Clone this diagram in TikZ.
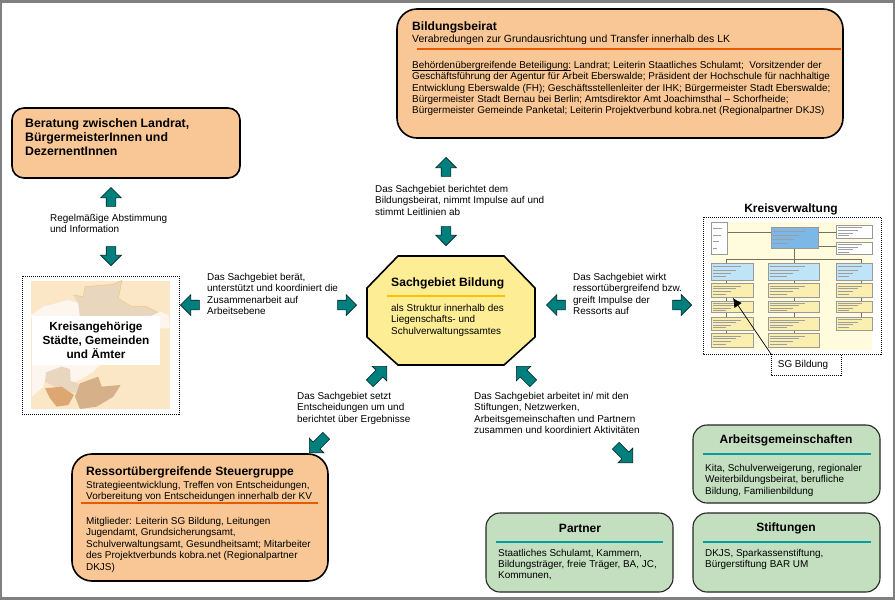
\documentclass[tikz,border=0pt]{standalone}
\usepackage{fontspec}
\setmainfont{Liberation Sans}
\usetikzlibrary{shapes.arrows,shapes.geometric,calc,arrows.meta}
\definecolor{peach}{HTML}{F8C795}
\definecolor{sage}{HTML}{C3DFBF}
\definecolor{octfill}{HTML}{FDEE96}
\definecolor{tealar}{HTML}{007F7F}
\definecolor{tealln}{HTML}{00A0A0}
\definecolor{orangeln}{HTML}{E85A00}
\definecolor{goldln}{HTML}{FFC000}
\definecolor{framegrey}{HTML}{808080}
\definecolor{mapbg}{HTML}{FBE6C6}
\definecolor{mapa}{HTML}{E8D6BE}
\definecolor{mapb}{HTML}{D6B088}
\definecolor{mapd}{HTML}{DDA774}
\definecolor{mapc}{HTML}{FDF6EE}
\definecolor{mapl}{HTML}{EBCB7A}
\definecolor{orgbg}{HTML}{FFFBDC}
\definecolor{orgyel}{HTML}{FBEFB0}
\definecolor{orglb}{HTML}{BFE3F7}
\definecolor{orgdb}{HTML}{7BB8E8}
\tikzset{
 x=1pt,y=-1pt,
 txt/.style={anchor=north west,inner sep=0pt,yshift=-1.7pt,align=left,font=\fontsize{9.93}{11.35}\selectfont,text=black},
 headb/.style={anchor=north west,inner sep=0pt,yshift=-1.7pt,align=left,font=\fontsize{12.1}{14}\selectfont\bfseries,text=black},
 headc/.style={anchor=center,inner sep=0pt,yshift=-1.3pt,align=center,font=\fontsize{12}{14}\selectfont\bfseries,text=black},
 peachbox/.style={draw=black,line width=1.6pt,fill=peach},
 greenbox/.style={draw=black!85,line width=1.1pt,fill=sage},
 dotbox/.style={draw=black,line width=1pt,dash pattern=on 1pt off 1pt},
 blockar/.style={single arrow,anchor=tip,draw=black!70!tealar,fill=tealar,line width=.6pt,minimum height=19pt,minimum width=20pt,inner sep=0pt,inner ysep=4.5pt,single arrow head extend=5.5pt},
 diagar/.style={blockar,minimum height=24pt},
 orgline/.style={draw=black!55!orgbg,line width=.4pt},
 tiny/.style={draw=black!38,line width=.4pt},
}
\newcommand{\orgb}[5]{% x1 y1 x2 y2 fill, with blurred micro text
 \fill[#5,draw=black!40,line width=.3pt] (#1,#2) rectangle (#3,#4);
 \foreach \k in {1,2,3,4}{\draw[tiny] ({#1+6},{#2+(#4-#2)*\k/5}) -- ({#1+(#3-#1)*(0.85-0.12*\k)},{#2+(#4-#2)*\k/5});}
}
\newcommand{\ulx}[1]{\setbox0=\hbox{#1}\rlap{\rule[-1.7pt]{\wd0}{.55pt}}\box0{}}
\begin{document}
\begin{tikzpicture}
\useasboundingbox (0,0) rectangle (895,600);
\fill[framegrey] (0,0) rectangle (895,600);
\fill[white] (2,3) rectangle (893,597);

% Bildungsbeirat
\path[peachbox,rounded corners=20pt] (397,9) rectangle (843,138);
\node[headb] (bbt) at (412,20) {Bildungsbeirat};
\node[txt,font=\fontsize{10.45}{12}\selectfont] (bbs) at (412,33) {Verabredungen zur Grundausrichtung und Transfer innerhalb des LK};
\draw[orangeln,line width=1.2pt] (417,49) -- (841,49);
\node[txt] (bbb) at (412,59.5) {\ulx{Behördenübergreifende Beteiligung:} Landrat; Leiterin Staatliches Schulamt;\ \ Vorsitzender der\\
Geschäftsführung der Agentur für Arbeit Eberswalde; Präsident der Hochschule für nachhaltige\\
Entwicklung Eberswalde (FH); Geschäftsstellenleiter der IHK; Bürgermeister Stadt Eberswalde;\\
Bürgermeister Stadt Bernau bei Berlin; Amtsdirektor Amt Joachimsthal – Schorfheide;\\
Bürgermeister Gemeinde Panketal; Leiterin Projektverbund kobra.net (Regionalpartner DKJS)};

% Beratung
\path[peachbox,rounded corners=12pt] (12,108) rectangle (240,178);
\node[headb,font=\fontsize{12.3}{14}\selectfont\bfseries] (ber) at (25,117) {Beratung zwischen Landrat,\\BürgermeisterInnen und\\DezernentInnen};

% Kreisangehoerige with map
\fill[mapbg] (31,281) rectangle (170,409);
\begin{scope}[shift={(0,265)},x=0.3333pt,y=-0.3333pt]
 \fill[mapc] (93,150) -- (130,125) -- (205,105) -- (235,115) -- (245,150) -- (245,160) -- (93,160) -- cycle;
 \fill[mapa] (220,90) -- (250,95) -- (255,65) -- (340,58) -- (366,46) -- (355,100) -- (395,125) -- (440,125) -- (490,150) -- (240,160) -- (235,115) -- cycle;
 \draw[mapl,line width=.5pt] (220,90) -- (250,95) -- (255,65) -- (340,58) -- (366,46) -- (355,100) -- (395,125) -- (440,125) -- (490,150);
 \fill[mapc] (440,160) -- (480,140) -- (505,150) -- (510,190) -- (490,190) -- (440,190) -- cycle;
 \fill[mapc] (96,300) -- (300,300) -- (280,320) -- (240,345) -- (210,355) -- (135,345) -- (130,365) -- (96,395) -- cycle;
 \fill[mapa] (138,322) -- (185,305) -- (210,312) -- (212,348) -- (240,358) -- (225,385) -- (165,365) -- (135,350) -- cycle;
 \fill[mapb] (225,395) -- (240,355) -- (295,335) -- (305,365) -- (362,360) -- (340,395) -- (290,425) -- (240,432) -- cycle;
 \fill[mapd] (135,370) -- (185,365) -- (222,390) -- (205,420) -- (170,425) -- (150,400) -- cycle;
\end{scope}
\fill[white] (32,316) rectangle (160,365);
\path[dotbox] (22,276) rectangle (179,414);
\node[headc,font=\fontsize{11.8}{14}\selectfont\bfseries,yshift=1.3pt] (kre) at (96,340) {Kreisangehörige\\Städte, Gemeinden\\und Ämter};

% Kreisverwaltung org chart
\node[headc] (kv) at (791,208) {Kreisverwaltung};
\fill[orgbg] (711,222) rectangle (872,350);
\begin{scope}[shift={(690,195)},x=0.3333pt,y=-0.3333pt]
 \draw[orgline] (110,112) -- (437,112) (383,155) -- (437,155) (313,158) -- (313,193) (110,193) -- (515,193)
   (110,193) -- (110,455) (313,193) -- (313,455) (515,193) -- (515,405);
 \orgb{63}{80}{110}{178}{white}
 \orgb{243}{97}{383}{158}{orgdb}
 \orgb{437}{90}{545}{130}{white}
 \orgb{437}{140}{545}{178}{white}
 \orgb{63}{205}{188}{255}{orglb}
 \orgb{233}{205}{388}{255}{orglb}
 \orgb{437}{205}{545}{255}{orglb}
 \foreach \a/\b in {265/305,318/352,367/405,415/455}{\orgb{63}{\a}{188}{\b}{orgyel}\orgb{233}{\a}{388}{\b}{orgyel}}
 \foreach \a/\b in {265/305,318/352,365/405}{\orgb{437}{\a}{545}{\b}{orgyel}}
\end{scope}
\path[dotbox] (703,217) rectangle (881,354);
\path[dotbox,fill=white] (771,354) rectangle (841,375);
\node[txt,anchor=center,yshift=1.7pt] (sg) at (803,365) {SG Bildung};
\coordinate (sgtip) at (733,298);
\coordinate (sgfrom) at (771,354);
\draw[black,line width=.7pt,-{Latex[length=9pt,width=9pt]}] (sgfrom) -- (sgtip);

% Octagon
\path[draw=black,line width=1.6pt,fill=octfill] (398,256) -- (504,256) -- (535,288) -- (535,337) -- (504,365) -- (398,365) -- (367,337) -- (367,288) -- cycle;
\node[headb] (oct) at (391,276) {Sachgebiet Bildung};
\draw[goldln,line width=1.3pt] (387,296) -- (505,296);
\node[txt] (octb) at (391,302.5) {als Struktur innerhalb des\\Liegenschafts- und\\Schulverwaltungssamtes};

% Steuergruppe
\path[peachbox,rounded corners=20pt] (72,454) rectangle (328,581);
\node[headb] (st) at (86,465) {Ressortübergreifende Steuergruppe};
\node[txt] (sts) at (86,479.5) {Strategieentwicklung, Treffen von Entscheidungen,\\Vorbereitung von Entscheidungen innerhalb der KV};
\draw[orangeln,line width=1.2pt] (81,503) -- (318,503);
\node[txt] (stb) at (86,515.5) {Mitglieder: Leiterin SG Bildung, Leitungen\\Jugendamt, Grundsicherungsamt,\\Schulverwaltungsamt, Gesundheitsamt; Mitarbeiter\\des Projektverbunds kobra.net (Regionalpartner\\DKJS)};

% Green boxes
\path[greenbox,rounded corners=14pt] (693,425) rectangle (880,503);
\node[headc] (ag) at (786,439) {Arbeitsgemeinschaften};
\draw[tealln,line width=1.3pt] (703,454) -- (871,454);
\node[txt] (agb) at (705,462.5) {Kita, Schulverweigerung, regionaler\\Weiterbildungsbeirat, berufliche\\Bildung, Familienbildung};

\path[greenbox,rounded corners=14pt] (486,513) rectangle (673,592);
\node[headc] (pa) at (580,527) {Partner};
\draw[tealln,line width=1.3pt] (496,542) -- (663,542);
\node[txt] (pab) at (498,547) {Staatliches Schulamt, Kammern,\\Bildungsträger, freie Träger, BA, JC,\\Kommunen,};

\path[greenbox,rounded corners=14pt] (693,513) rectangle (880,592);
\node[headc] (si) at (786,527) {Stiftungen};
\draw[tealln,line width=1.3pt] (703,542) -- (871,542);
\node[txt] (sib) at (705,547) {DKJS, Sparkassenstiftung,\\Bürgerstiftung BAR UM};

% Labels
\node[txt] (l1) at (375,183.5) {Das Sachgebiet berichtet dem\\Bildungsbeirat, nimmt Impulse auf und\\stimmt Leitlinien ab};
\node[txt] (l2) at (50,212.5) {Regelmäßige Abstimmung\\und Information};
\node[txt] (l3) at (207,271.5) {Das Sachgebiet berät,\\unterstützt und koordiniert die\\Zusammenarbeit auf\\Arbeitsebene};
\node[txt] (l4) at (573,271.5) {Das Sachgebiet wirkt\\ressortübergreifend bzw.\\greift Impulse der\\Ressorts auf};
\node[txt] (l5) at (297,390.5) {Das Sachgebiet setzt\\Entscheidungen um und\\berichtet über Ergebnisse};
\node[txt] (l6) at (474,390.5) {Das Sachgebiet arbeitet in/ mit den\\Stiftungen, Netzwerken,\\Arbeitsgemeinschaften und Partnern\\zusammen und koordiniert Aktivitäten};

% Block arrows (placed by their tips)
\node[blockar,rotate=90] (a1) at (111,187) {};
\node[blockar,rotate=-90] (a2) at (111,266) {};
\node[blockar,rotate=90] (a3) at (446,157) {};
\node[blockar,rotate=-90] (a4) at (446,246) {};
\node[blockar,rotate=180] (a5) at (180,305) {};
\node[blockar] (a6) at (357,305) {};
\node[blockar,rotate=180] (a7) at (546,305) {};
\node[blockar] (a8) at (692,305) {};
\node[diagar,rotate=45] (a9) at (387,366) {};
\node[diagar,rotate=225] (a10) at (309,453) {};
\node[diagar,rotate=135] (a11) at (516,366) {};
\node[diagar,rotate=-45] (a12) at (633,463) {};
\end{tikzpicture}
\end{document}
